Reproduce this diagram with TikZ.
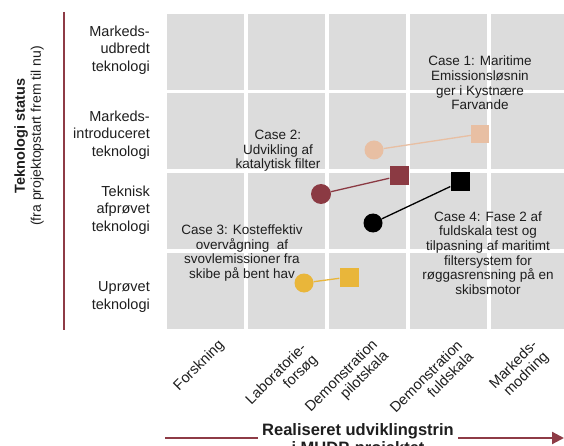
\documentclass[tikz,border=0pt]{standalone}
\usepackage{fontspec}
\setmainfont{Liberation Sans}
\usetikzlibrary{arrows.meta}
\definecolor{cellgray}{HTML}{DCDCDC}
\definecolor{axisred}{HTML}{8E3B46}
\definecolor{caseone}{HTML}{E8BFA3}
\definecolor{casetwo}{HTML}{8B3A43}
\definecolor{casethree}{HTML}{E9B63A}
\definecolor{casefour}{HTML}{000000}
\definecolor{txt}{HTML}{1E1E1E}
\begin{document}
\begin{tikzpicture}[x=1pt,y=-1pt,
  rowlabel/.style={anchor=east, align=right, font=\fontsize{14.5}{17.5}\selectfont, text=txt, inner sep=0pt},
  collabel/.style={anchor=east, align=right, rotate=45, font=\fontsize{14.6}{15.5}\selectfont, text=txt, inner sep=0pt},
  casetext/.style={align=center, font=\fontsize{13.5}{14.6}\selectfont, text=txt, inner sep=0pt},
  casedot/.style={circle, minimum size=19pt, inner sep=0pt, fill=#1},
  casesq/.style={rectangle, minimum size=19pt, inner sep=0pt, fill=#1},
  caselink/.style={draw=#1, line width=1.3pt},
  axisline/.style={draw=axisred, line width=2pt},
]
\useasboundingbox (0,0) rectangle (564,446);
% grid cells
\foreach \c in {0,...,4} \foreach \r in {0,...,3} {
  \fill[cellgray] (167+81*\c, 14+79.5*\r) rectangle ++(77,76);
}
% vertical axis
\coordinate (ytop) at (64,12);
\coordinate (ybot) at (64,330);
\draw[axisline] (ytop) -- (ybot);
\node[rotate=90, align=center, text=txt, inner sep=0pt, font=\fontsize{14}{16}\selectfont] (ytitle) at (29,136)
  {{\bfseries\fontsize{14.5}{16}\selectfont Teknologi status}\\(fra projektopstart frem til nu)};
% row labels
\node[rowlabel] (r1) at (150,50) {Markeds-\\udbredt\\teknologi};
\node[rowlabel] (r2) at (150,135) {Markeds-\\introduceret\\teknologi};
\node[rowlabel] (r3) at (150,210) {Teknisk\\afprøvet\\teknologi};
\node[rowlabel] (r4) at (150,297) {Uprøvet\\teknologi};
% column labels
\node[collabel] (l1) at (222,343) {Forskning};
\node[collabel] (l2) at (310,352) {Laboratorie-\\forsøg};
\node[collabel] (l3) at (381,348) {Demonstration\\pilotskala};
\node[collabel] (l4) at (465,348) {Demonstration\\fuldskala};
\node[collabel] (l5) at (541,349) {Markeds-\\modning};
% horizontal axis
\coordinate (xstart) at (165,438);
\coordinate (xend) at (564,438);
\draw[axisline, line width=2.2pt, -{Triangle[length=12pt,width=12pt]}] (xstart) -- (xend);
\node[fill=white, inner xsep=4pt, inner ysep=1pt, align=center, text=txt,
  font=\bfseries\fontsize{16.5}{18}\selectfont] (xtitle) at (358,440)
  {Realiseret udviklingstrin\\i MUDP-projektet};
% case texts
\node[casetext] (t1) at (480,83) {Case 1: Maritime\\Emissionsløsnin\\ger i Kystnære\\Farvande};
\node[casetext] (t2) at (278,151) {Case 2:\\Udvikling af\\katalytisk filter};
\node[casetext] (t3) at (242,253) {Case 3: Kosteffektiv\\overvågning\ \ af\\svovlemissioner fra\\skibe på bent hav};
\node[casetext] (t4) at (488,253) {Case 4: Fase 2 af\\fuldskala test og\\tilpasning af maritimt\\filtersystem for\\røggasrensning på en\\skibsmotor};
% markers
\node[casedot=caseone] (c1) at (374,150) {};
\node[casesq=caseone, minimum size=18pt] (s1) at (480,134) {};
\draw[caselink=caseone] (c1) -- (s1);
\node[casedot=casetwo, minimum size=20pt] (c2) at (321,194) {};
\node[casesq=casetwo] (s2) at (399,176) {};
\draw[caselink=casetwo] (c2) -- (s2);
\node[casedot=casefour] (c4) at (373,223) {};
\node[casesq=casefour] (s4) at (460,182) {};
\draw[caselink=casefour] (c4) -- (s4);
\node[casedot=casethree] (c3) at (304,283) {};
\node[casesq=casethree] (s3) at (349,277) {};
\draw[caselink=casethree] (c3) -- (s3);
\end{tikzpicture}
\end{document}
